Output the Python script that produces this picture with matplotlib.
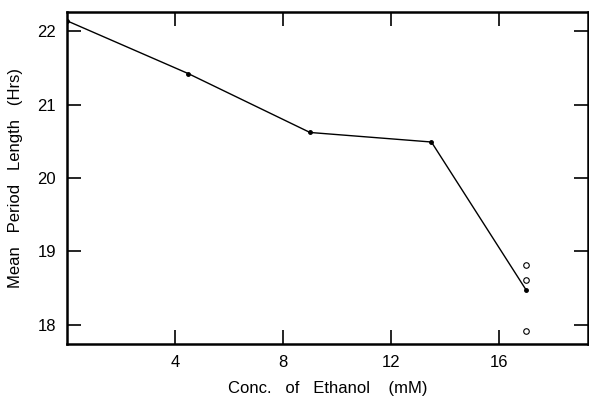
import matplotlib
matplotlib.use('Agg')
from matplotlib import pyplot as plt

conc = [0.0, 4.5, 9.0, 13.5, 17.0]
period = [22.14, 21.42, 20.62, 20.49, 18.48]
extra_conc = [17.0, 17.0, 17.0]
extra_period = [18.81, 18.61, 17.92]
xticks = [4, 8, 12, 16]
yticks = [18, 19, 20, 21, 22]

plt.rcParams['font.family'] = ['Liberation Sans', 'DejaVu Sans']

fig = plt.figure(figsize=(5.89, 3.99), dpi=100)
ax = fig.add_axes([67 / 589, 1 - 344 / 399, 521 / 589, 332 / 399])

ax.plot(conc, period, color='black', lw=1.0, marker='o', ms=2.5)
ax.plot(extra_conc, extra_period, ls='none', marker='o', ms=4,
        mfc='white', mec='black', mew=0.8)

ax.set_xlim(0, 19.3)
ax.set_ylim(17.74, 22.26)
ax.set_xticks(xticks)
ax.set_xticklabels([str(t) for t in xticks])
ax.set_yticks(yticks)
ax.set_yticklabels([str(t) for t in yticks])
ax.tick_params(direction='in', length=10, width=1.2, labelsize=12,
               top=True, right=True, pad=8)
for s in ax.spines.values():
    s.set_linewidth(1.8)

ax.set_xlabel('Conc.   of   Ethanol    (mM)', fontsize=12, labelpad=8)
ax.set_ylabel('Mean   Period   Length   (Hrs)', fontsize=12, labelpad=10)

fig.savefig('out.png', dpi=100)
